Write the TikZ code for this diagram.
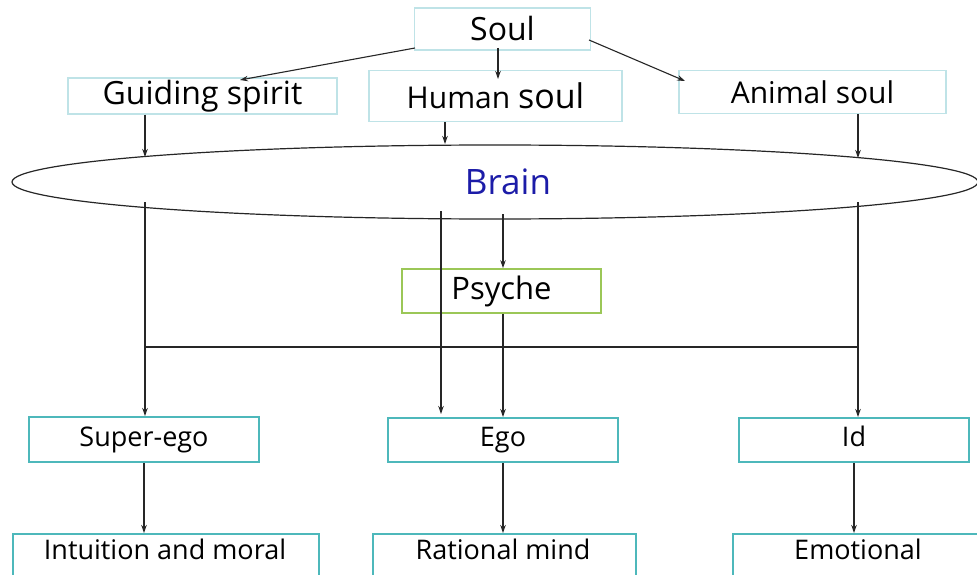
\documentclass[tikz,border=0pt]{standalone}
\usepackage{fontspec}
\setmainfont{Open Sans}
\usetikzlibrary{arrows.meta,shapes.geometric}
\definecolor{lightbox}{HTML}{BFE3E7}
\definecolor{tealbox}{HTML}{4DB8BB}
\definecolor{greenbox}{HTML}{9BC757}
\definecolor{brainblue}{HTML}{1C1CA8}
\tikzset{
  topbox/.style={draw=lightbox,line width=1.3pt,rectangle,inner sep=0pt},
  lowbox/.style={draw=tealbox,line width=2pt,rectangle,inner sep=0pt},
  psybox/.style={draw=greenbox,line width=1.8pt,rectangle,inner sep=0pt},
  conn/.style={draw=black!85,line width=1.1pt},
  arr/.style={conn,-{Stealth[length=8pt,width=5.5pt]}},
  toptext/.style={font=\fontsize{30}{34}\selectfont},
  lowtext/.style={font=\fontsize{27}{31}\selectfont,text height=20pt,text depth=7pt}
}
\begin{document}
\begin{tikzpicture}[x=1pt,y=-1pt]
\useasboundingbox[fill=white] (0,0) rectangle (977,575);
% boxes
\node[topbox,minimum width=176pt,minimum height=42pt,toptext,font=\fontsize{32}{36}\selectfont] (soul) at (502.5,29) {Soul};
\node[topbox,minimum width=269pt,minimum height=36pt,toptext,font=\fontsize{32}{36}\selectfont] (guide) at (202.5,96) {Guiding spirit};
\node[topbox,minimum width=253pt,minimum height=51pt,toptext] (human) at (495.5,96) {Human \fontsize{34}{38}\selectfont soul};
\node[topbox,minimum width=267pt,minimum height=43pt,toptext] (animal) at (812.5,92) {Animal soul};
\node[draw=black!85,line width=1.2pt,ellipse,minimum width=966pt,minimum height=74pt,inner sep=0pt] (brain) at (495,182) {};
\node[text=brainblue,font=\fontsize{35}{39}\selectfont] (braintext) at (508,182) {Brain};
\node[psybox,minimum width=199pt,minimum height=44pt,toptext,font=\fontsize{31}{35}\selectfont] (psyche) at (501.5,291) {Psyche};
\node[lowbox,minimum width=230pt,minimum height=45pt,lowtext] (superego) at (144,439.5) {Super-ego};
\node[lowbox,minimum width=230pt,minimum height=44pt,lowtext] (ego) at (503,440) {Ego};
\node[lowbox,minimum width=230pt,minimum height=44pt,lowtext] (id) at (854,440) {Id};
\node[lowbox,minimum width=306pt,minimum height=60pt,anchor=north west] (intuition) at (12,533) {};
\node[lowbox,minimum width=263pt,minimum height=60pt,anchor=north west] (rational) at (372,533) {};
\node[lowbox,minimum width=270pt,minimum height=60pt,anchor=north west] (emotional) at (732,533) {};
\node[lowtext] (intuitiontext) at (165,553) {Intuition and moral};
\node[lowtext] (rationaltext) at (503,553) {Rational mind};
\node[lowtext] (emotionaltext) at (858,553) {Emotional};
% free-end coordinates
\coordinate (s1) at (415,48);
\coordinate (g1) at (240,80);
\coordinate (s2) at (498,48);
\coordinate (h1) at (498,79);
\coordinate (s3) at (589,40);
\coordinate (a1) at (685,81);
\coordinate (gb) at (145,157);
\coordinate (hb) at (445,144);
\coordinate (ab) at (858,158);
\coordinate (bl) at (145,202);
\coordinate (br) at (858,202);
\coordinate (bm) at (441,211);
\coordinate (bp) at (503,214);
\coordinate (jl) at (145,347);
\coordinate (jr) at (858,347);
\coordinate (em) at (441,414);
% connectors
\draw[arr] (s1) -- (g1);
\draw[arr] (s2) -- (h1);
\draw[arr] (s3) -- (a1);
\draw[arr] (guide.south -| gb) -- (gb);
\draw[arr] (human.south -| hb) -- (hb);
\draw[arr] (animal.south -| ab) -- (ab);
\draw[arr] (bl) -- (superego.north -| bl);
\draw[arr] (br) -- (id.north -| br);
\draw[conn] (jl) -- (jr);
\draw[arr] (bm) -- (em);
\draw[arr] (bp) -- (psyche.north -| bp);
\draw[arr] (psyche.south -| bp) -- (ego.north -| bp);
\draw[arr] (superego.south) -- (intuition.north -| superego.south);
\draw[arr] (ego.south) -- (rational.north -| ego.south);
\draw[arr] (id.south) -- (emotional.north -| id.south);
\end{tikzpicture}
\end{document}
